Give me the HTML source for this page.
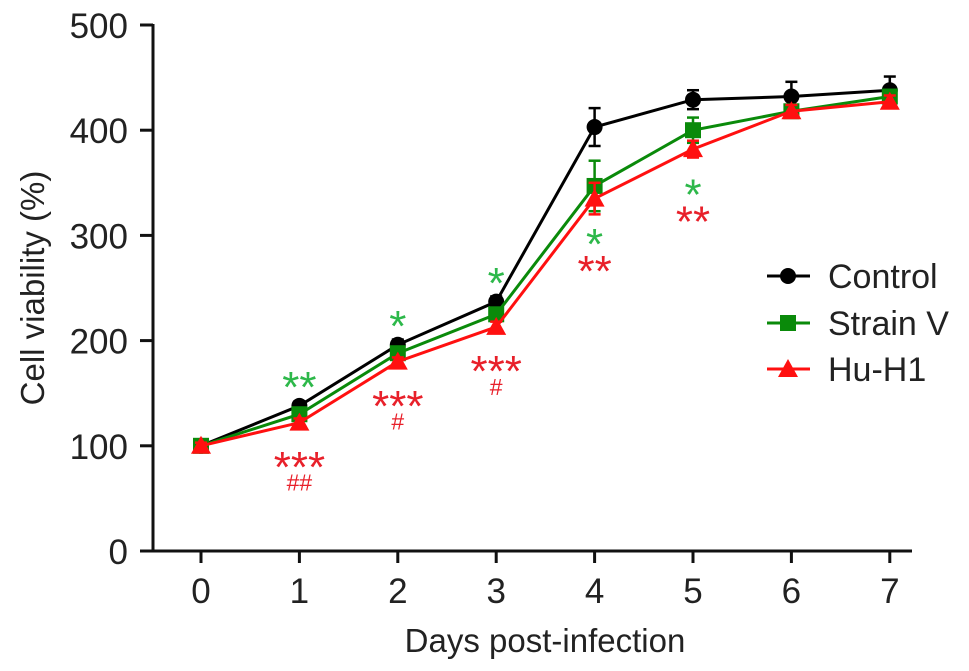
<!DOCTYPE html>
<html><head><meta charset="utf-8"><style>
html,body{margin:0;padding:0;background:#fff;}
svg{display:block;font-family:"Liberation Sans",Arial,sans-serif;}
</style></head><body>
<svg id="chart" width="969" height="671" viewBox="0 0 969 671"></svg>
<script>
const days = [0,1,2,3,4,5,6,7];
const yTicks = [0,100,200,300,400,500];
const controlVals = [100,138,196,237,403,429,432,438];
const strainVals = [100,130,188,225,347,400,418,432];
const huVals = [100,122,180,213,335,382,418,427];
const controlErr = [3,4,5,5,18,9,14,13];
const strainErr = [3,4,5,5,24,12,6,6];
const huErr = [3,4,4,5,15,8,6,6];
const greenMarks = ["","**","*","*","*","*","",""];
const redMarks = ["","***","***","***","**","**","",""];
const hashMarks = ["","##","#","#","","","",""];

const svg = document.getElementById('chart');
const NS = 'http://www.w3.org/2000/svg';
const X0=201, XS=98.4, Y0=551, YS=1.052;
const xs = d => X0 + d*XS;
const ys = v => Y0 - v*YS;
function mk(tag, attrs, parent){const e=document.createElementNS(NS,tag);for(const k in attrs)e.setAttribute(k,attrs[k]);(parent||svg).appendChild(e);return e;}

const yAxis = mk('line',{x1:153,y1:ys(500)-1,x2:153,y2:Y0+1,stroke:'#111','stroke-width':3});


const xAxis = mk('line',{x1:140,y1:Y0,x2:912,y2:Y0,stroke:'#111','stroke-width':3});


yTicks.forEach(t=>{
  mk('line',{x1:140,y1:ys(t),x2:153,y2:ys(t),stroke:'#111','stroke-width':3});
  const tx = mk('text',{x:128,y:ys(t)+13,'text-anchor':'end','font-size':35,fill:'#222'});
  tx.textContent = t;
  
  
});
days.forEach(d=>{
  mk('line',{x1:xs(d),y1:Y0,x2:xs(d),y2:Y0+12,stroke:'#111','stroke-width':3});
  const tx = mk('text',{x:xs(d),y:603,'text-anchor':'middle','font-size':35,fill:'#222'});
  tx.textContent = d;
  
  
});
const xt = mk('text',{x:545,y:652,'text-anchor':'middle','font-size':33,fill:'#222'});
xt.textContent='Days post-infection';


const yt = mk('text',{x:0,y:0,'text-anchor':'middle','font-size':33,fill:'#222',transform:'translate(44,288) rotate(-90)'});
yt.textContent='Cell viability (%)';



function marker(type,x,y,color,g){
  if(type==='circle') return mk('circle',{cx:x,cy:y,r:8,fill:color},g);
  if(type==='square') return mk('rect',{x:x-8,y:y-8,width:16,height:16,fill:color},g);
  return mk('polygon',{points:`${x},${y-10} ${x-10},${y+8} ${x+10},${y+8}`,fill:color},g);
}
function series(name,vals,errs,color,type){
  const g = mk('g',{});
  
  
  vals.forEach((v,i)=>{
    const x=xs(days[i]);
    mk('line',{x1:x,y1:ys(v+errs[i]),x2:x,y2:ys(v-errs[i]),stroke:color,'stroke-width':2.5},g);
    mk('line',{x1:x-6,y1:ys(v+errs[i]),x2:x+6,y2:ys(v+errs[i]),stroke:color,'stroke-width':2.5},g);
    mk('line',{x1:x-6,y1:ys(v-errs[i]),x2:x+6,y2:ys(v-errs[i]),stroke:color,'stroke-width':2.5},g);
  });
  mk('polyline',{points:vals.map((v,i)=>xs(days[i])+','+ys(v)).join(' '),fill:'none',stroke:color,'stroke-width':3},g);
  vals.forEach((v,i)=>{
    const m = marker(type,xs(days[i]),ys(v),color,g);
    
    
  });
}
series('control',controlVals,controlErr,'#000','circle');
series('strain-v',strainVals,strainErr,'#0a8a0a','square');
series('hu-h1',huVals,huErr,'#ff1010','triangle');

const AFS = 44;
days.forEach((d,i)=>{
  const x = xs(d);
  if(greenMarks[i]){
    const c = i<4 ? ys(controlVals[i]) - 28 : ys(huVals[i]) + 36;
    const t = mk('text',{x:x,y:c+AFS*0.55,'text-anchor':'middle','font-size':AFS,fill:'#2db84a'});
    t.textContent = greenMarks[i];
    
    
  }
  if(redMarks[i]){
    const c = i<4 ? ys(huVals[i]) + 35 : ys(huVals[i]) + 63;
    const t = mk('text',{x:x,y:c+AFS*0.55,'text-anchor':'middle','font-size':AFS,fill:'#e8202a'});
    t.textContent = redMarks[i];
    
    
    if(hashMarks[i]){
      const h = mk('text',{x:x,y:c+25+8,'text-anchor':'middle','font-size':23,fill:'#e8202a'});
      h.textContent = hashMarks[i];
      
      
    }
  }
});

const legend = [['Control','#000','circle',276],['Strain V','#0a8a0a','square',323],['Hu-H1','#ff1010','triangle',369]];
legend.forEach(([lab,c,t,y])=>{
  const g = mk('g',{});
  
  
  mk('line',{x1:767,y1:y,x2:810,y2:y,stroke:c,'stroke-width':3},g);
  marker(t,788,y,c,g);
  const tx = mk('text',{x:828,y:y+12,'font-size':34,fill:'#222'},g);
  tx.textContent = lab;
});
</script>
</body></html>
